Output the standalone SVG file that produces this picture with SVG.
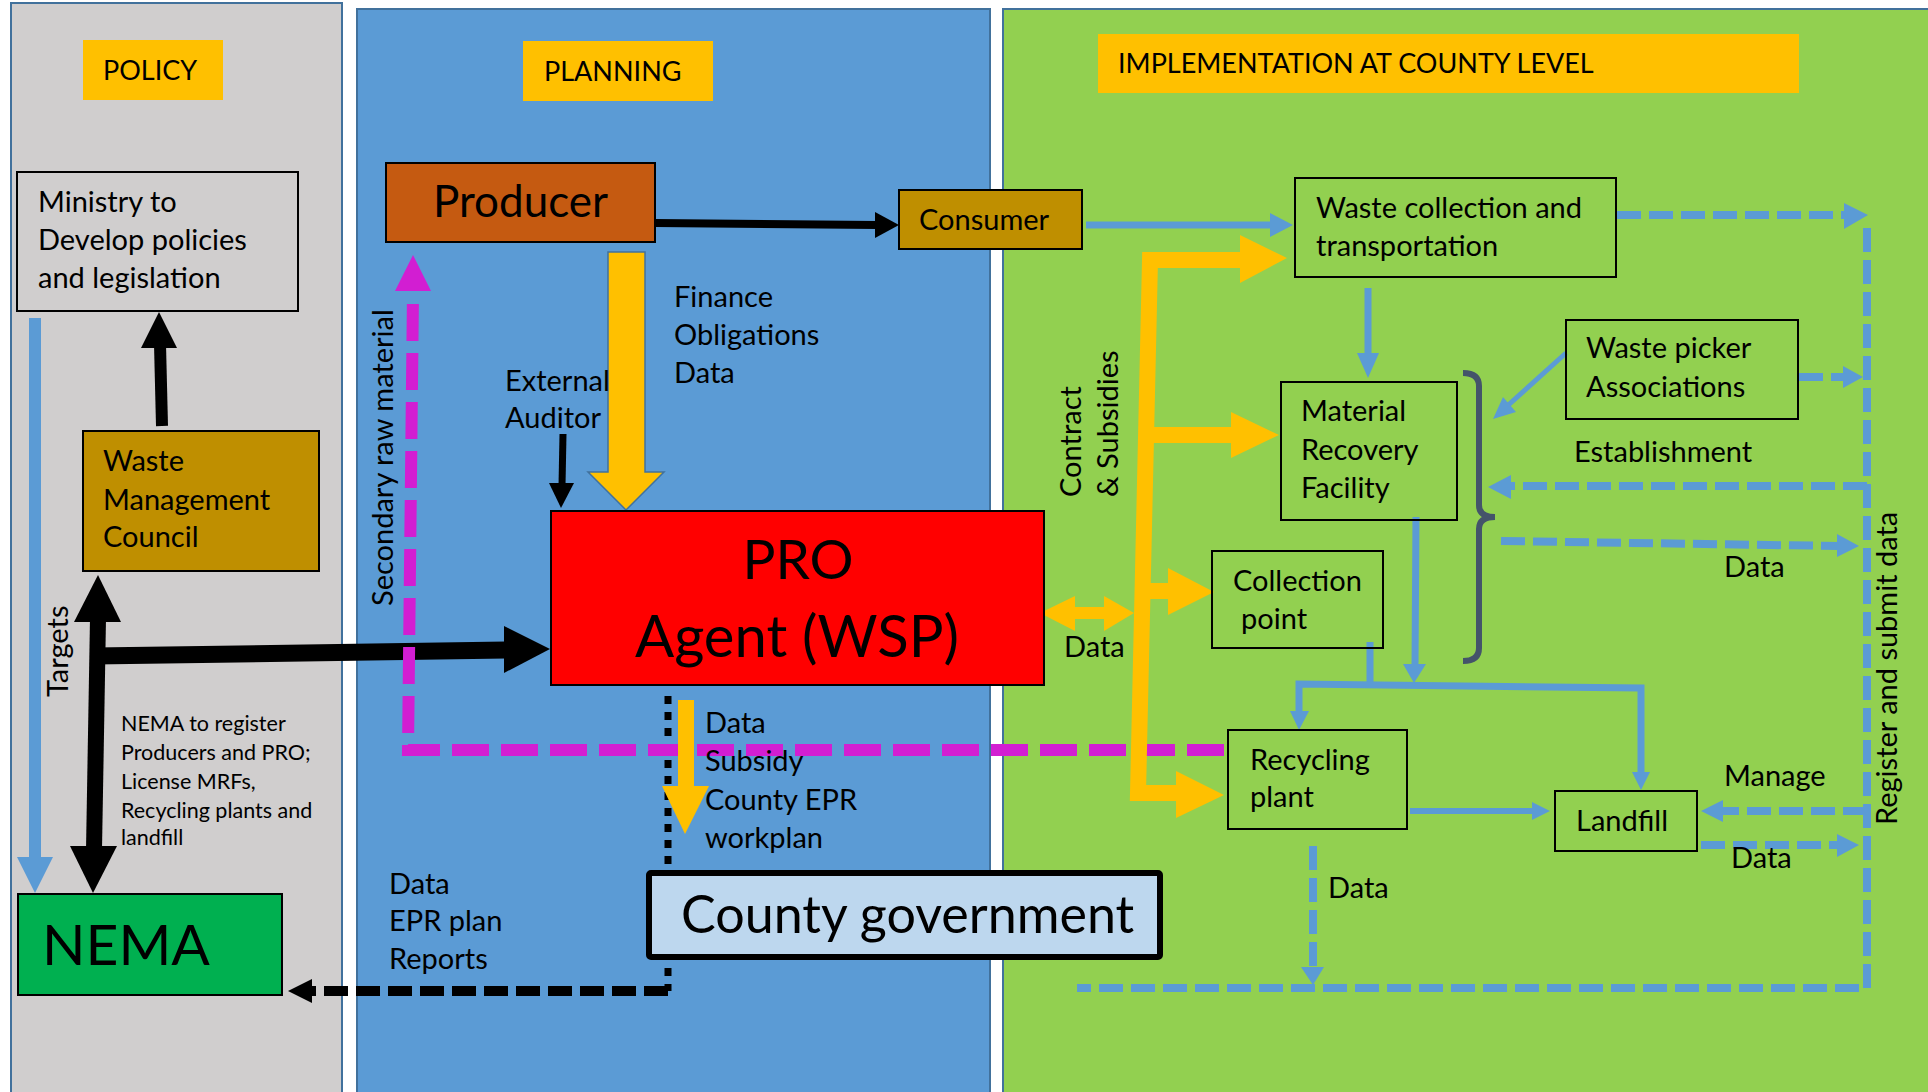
<svg xmlns="http://www.w3.org/2000/svg" width="1928" height="1092" viewBox="0 0 1928 1092">
<defs>
<style>
.t{font-family:Lato,"Liberation Sans",sans-serif;font-size:29px;fill:#000}
.h{font-family:Lato,"Liberation Sans",sans-serif;font-size:27px;fill:#000}
.s{font-family:Lato,"Liberation Sans",sans-serif;font-size:21.5px;fill:#000}
.big{font-family:Lato,"Liberation Sans",sans-serif;fill:#000}
.box{stroke:#000;stroke-width:2}
.panel{stroke:#41719C;stroke-width:2}
.lbl{fill:#FFC000}
.k{stroke:#000;fill:none}
.kh{fill:#000}
.y{stroke:#FFC000;fill:none}
.yh{fill:#FFC000}
.b{stroke:#5B9BD5;fill:none}
.bd{stroke:#5B9BD5;fill:none;stroke-width:8;stroke-dasharray:24 8}
.bh{fill:#5B9BD5}
.m{stroke:#D21ED2;fill:none;stroke-width:12;stroke-dasharray:37 12}
</style>
</defs>
<rect width="1928" height="1092" fill="#fff"/>
<g id="panels">
<rect id="policy-panel" class="panel" x="11" y="3" width="331" height="1100" fill="#D0CECE"/>
<rect id="planning-panel" class="panel" x="357" y="9" width="633" height="1100" fill="#5B9BD5"/>
<rect id="implementation-panel" class="panel" x="1003" y="9" width="940" height="1100" fill="#92D050"/>
</g>
<g id="labels">
<g id="policy-label"><rect class="lbl" x="83" y="40" width="140" height="60"/><text class="h" x="103" y="80">POLICY</text></g>
<g id="planning-label"><rect class="lbl" x="523" y="41" width="190" height="60"/><text class="h" x="544" y="81">PLANNING</text></g>
<g id="implementation-label"><rect class="lbl" x="1098" y="34" width="701" height="59"/><text class="h" x="1118" y="73">IMPLEMENTATION AT COUNTY LEVEL</text></g>
</g>
<g id="connectors">
<!-- black -->
<line class="k" x1="162" y1="426" x2="160" y2="344" stroke-width="12"/>
<polygon class="kh" points="159,312 141,348 177,348"/>
<line class="k" x1="98" y1="618" x2="94" y2="850" stroke-width="16"/>
<polygon class="kh" points="98,575 74,622 121,622"/>
<polygon class="kh" points="93,893 70,846 117,846"/>
<line class="k" x1="94" y1="656" x2="506" y2="650" stroke-width="17"/>
<polygon class="kh" points="550,649 504,626 504,673"/>
<line class="k" x1="655" y1="223" x2="877" y2="225" stroke-width="8"/>
<polygon class="kh" points="899,225 875,212 875,238"/>
<line class="k" x1="563" y1="434" x2="562" y2="486" stroke-width="7"/>
<polygon class="kh" points="561,508 549,483 574,483"/>
<path class="k" d="M668,696 V991" stroke-width="7" stroke-dasharray="8 8"/>
<path class="k" d="M668,991 H310" stroke-width="10" stroke-dasharray="24 8"/>
<polygon class="kh" points="288,991 312,979 312,1003"/>
<!-- magenta -->
<path class="m" d="M1224,750 H408 L413,292"/>
<polygon fill="#D21ED2" points="413,255 395,291 431,291"/>
<!-- yellow -->
<polygon fill="#FFC000" stroke="#41719C" stroke-width="1.5" points="608,252 645,252 645,472 664,472 626,510 588,472 608,472"/>
<rect class="yh" x="678" y="700" width="16" height="88"/>
<polygon class="yh" points="662,786 709,786 685,834"/>
<path class="y" d="M1242,260 H1150 L1138,793 H1178" stroke-width="16"/>
<polygon class="yh" points="1287,258 1240,235 1240,283"/>
<line class="y" x1="1146" y1="435" x2="1233" y2="435" stroke-width="16"/>
<polygon class="yh" points="1279,435 1231,412 1231,458"/>
<line class="y" x1="1142" y1="591" x2="1170" y2="591" stroke-width="16"/>
<polygon class="yh" points="1214,592 1168,568 1168,615"/>
<polygon class="yh" points="1224,795 1176,771 1176,818"/>
<line class="y" x1="1070" y1="613" x2="1106" y2="613" stroke-width="12"/>
<polygon class="yh" points="1040,613 1075,596 1075,631"/>
<polygon class="yh" points="1134,613 1104,596 1104,631"/>
<!-- blue solid -->
<line class="b" x1="35" y1="318" x2="35" y2="860" stroke-width="12"/>
<polygon class="bh" points="35,893 17,857 53,857"/>
<line class="b" x1="1086" y1="225" x2="1272" y2="225" stroke-width="7"/>
<polygon class="bh" points="1293,225 1270,213 1270,237"/>
<line class="b" x1="1368" y1="288" x2="1368" y2="356" stroke-width="7"/>
<polygon class="bh" points="1368,378 1357,353 1379,353"/>
<line class="b" x1="1566" y1="353" x2="1505" y2="408" stroke-width="5"/>
<polygon class="bh" points="1493,419 1516,412 1503,397"/>
<line class="b" x1="1416" y1="517" x2="1415" y2="666" stroke-width="7"/>
<polygon class="bh" points="1414,683 1403,664 1426,664"/>
<line class="b" x1="1370" y1="642" x2="1370" y2="686" stroke-width="7"/>
<path class="b" d="M1299,714 L1299,684 L1641,688 L1641,774" stroke-width="7"/>
<polygon class="bh" points="1299,730 1290,711 1309,711"/>
<polygon class="bh" points="1641,790 1632,772 1650,772"/>
<line class="b" x1="1410" y1="811" x2="1534" y2="811" stroke-width="6"/>
<polygon class="bh" points="1550,811 1532,802 1532,820"/>
<!-- blue dashed -->
<path class="bd" d="M1617,215 H1846"/>
<polygon class="bh" points="1868,215 1844,203 1844,229"/>
<path class="bd" d="M1867,228 V988 H1077"/>
<path class="bd" d="M1799,377 H1845"/>
<polygon class="bh" points="1863,377 1843,366 1843,388"/>
<path class="bd" d="M1867,486 H1508"/>
<polygon class="bh" points="1488,487 1511,475 1511,499"/>
<path class="bd" d="M1501,541 L1839,546"/>
<polygon class="bh" points="1859,546 1837,534 1837,557"/>
<path class="bd" d="M1867,811 H1720"/>
<polygon class="bh" points="1701,811 1723,800 1723,822"/>
<path class="bd" d="M1701,845 H1839"/>
<polygon class="bh" points="1859,845 1837,834 1837,857"/>
<path class="bd" d="M1313,846 V969"/>
<polygon class="bh" points="1313,985 1301,967 1324,967"/>
<!-- bracket -->
<path d="M1463,373 Q1479,373 1479,386 V505 Q1479,517 1495,517 Q1479,517 1479,529 V648 Q1479,661 1463,661" fill="none" stroke="#44546A" stroke-width="6"/>
</g>
<g id="edge-labels">
<text class="t" transform="translate(68,697) rotate(-90)">Targets</text>
<text class="t" transform="translate(393,606) rotate(-90)">Secondary raw material</text>
<text class="t" transform="translate(1081,497) rotate(-90)">Contract</text>
<text class="t" transform="translate(1118,497) rotate(-90)">&amp; Subsidies</text>
<text class="t" transform="translate(1897,825) rotate(-90)">Register and submit data</text>
<text class="s"><tspan x="121" y="731">NEMA to register</tspan><tspan x="121" y="760">Producers and PRO;</tspan><tspan x="121" y="789">License MRFs,</tspan><tspan x="121" y="818">Recycling plants and</tspan><tspan x="121" y="845">landfill</tspan></text>
<text class="t"><tspan x="674" y="307">Finance</tspan><tspan x="674" y="345">Obligations</tspan><tspan x="674" y="383">Data</tspan></text>
<text class="t"><tspan x="505" y="391">External</tspan><tspan x="505" y="428">Auditor</tspan></text>
<text class="t"><tspan x="705" y="733">Data</tspan><tspan x="705" y="771">Subsidy</tspan><tspan x="705" y="810">County EPR</tspan><tspan x="705" y="848">workplan</tspan></text>
<text class="t"><tspan x="389" y="894">Data</tspan><tspan x="389" y="931">EPR plan</tspan><tspan x="389" y="969">Reports</tspan></text>
<text class="t" x="1064" y="657">Data</text>
<text class="t" x="1574" y="462">Establishment</text>
<text class="t" x="1724" y="577">Data</text>
<text class="t" x="1724" y="786">Manage</text>
<text class="t" x="1731" y="868">Data</text>
<text class="t" x="1328" y="898">Data</text>
</g>
<g id="ministry"><rect class="box" x="17" y="172" width="281" height="139" fill="#D0CECE"/><text class="t"><tspan x="38" y="212">Ministry to</tspan><tspan x="38" y="250">Develop policies</tspan><tspan x="38" y="288">and legislation</tspan></text></g>
<g id="waste-management-council"><rect class="box" x="83" y="431" width="236" height="140" fill="#BF8F00"/><text class="t"><tspan x="103" y="471">Waste</tspan><tspan x="103" y="510">Management</tspan><tspan x="103" y="547">Council</tspan></text></g>
<g id="nema"><rect class="box" x="18" y="894" width="264" height="101" fill="#00B050"/><text class="big" x="42" y="965" style="font-size:57px">NEMA</text></g>
<g id="producer"><rect class="box" x="386" y="163" width="269" height="79" fill="#C55A11"/><text class="big" x="433" y="217" style="font-size:44px">Producer</text></g>
<g id="consumer"><rect class="box" x="899" y="190" width="183" height="59" fill="#BF8F00"/><text class="t" x="919" y="230">Consumer</text></g>
<g id="pro"><rect class="box" x="551" y="511" width="493" height="174" fill="#FF0000"/><text class="big" x="798" y="579" text-anchor="middle" style="font-size:55px">PRO</text><text class="big" x="797" y="657" text-anchor="middle" style="font-size:58px">Agent (WSP)</text></g>
<g id="county-government"><rect x="649" y="873" width="511" height="84" fill="#BDD7EE" stroke="#000" stroke-width="6" rx="2"/><text class="big" x="681" y="933" style="font-size:52px">County government</text></g>
<g id="waste-collection"><rect class="box" x="1295" y="178" width="321" height="99" fill="none"/><text class="t"><tspan x="1316" y="218">Waste collection and</tspan><tspan x="1316" y="256">transportation</tspan></text></g>
<g id="mrf"><rect class="box" x="1281" y="382" width="176" height="138" fill="none"/><text class="t"><tspan x="1301" y="421">Material</tspan><tspan x="1301" y="460">Recovery</tspan><tspan x="1301" y="498">Facility</tspan></text></g>
<g id="waste-picker"><rect class="box" x="1566" y="320" width="232" height="99" fill="none"/><text class="t"><tspan x="1586" y="358">Waste picker</tspan><tspan x="1586" y="397">Associations</tspan></text></g>
<g id="collection-point"><rect class="box" x="1212" y="551" width="171" height="97" fill="none"/><text class="t"><tspan x="1233" y="591">Collection</tspan><tspan x="1241" y="629">point</tspan></text></g>
<g id="recycling-plant"><rect class="box" x="1228" y="730" width="179" height="99" fill="none"/><text class="t"><tspan x="1250" y="770">Recycling</tspan><tspan x="1250" y="807">plant</tspan></text></g>
<g id="landfill"><rect class="box" x="1555" y="791" width="142" height="60" fill="none"/><text class="t" x="1576" y="831">Landfill</text></g>
</svg>
